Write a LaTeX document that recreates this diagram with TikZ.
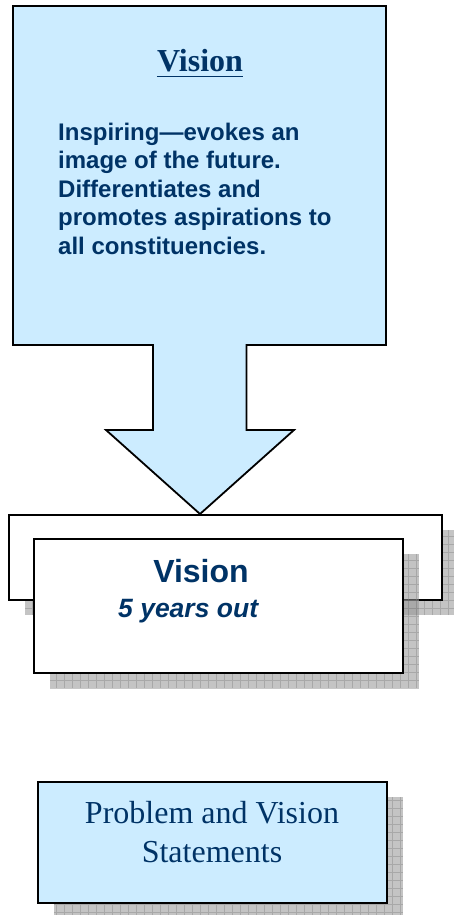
\documentclass[tikz,border=0pt]{standalone}
\usepackage{fontspec}
\setmainfont{Liberation Serif}
\setsansfont{Liberation Sans}
\usetikzlibrary{calc}
\definecolor{lightblue}{RGB}{204,236,255}
\definecolor{navy}{RGB}{0,51,102}
\newcommand\gridshadow[2]{%
  \fill[gray!85, fill opacity=0.55] #1 rectangle #2;
  \begin{scope}
    \clip #1 rectangle #2;
    \draw[gray!95, line width=0.5pt, opacity=0.45, step=8pt] #1 grid #2;
  \end{scope}}
\begin{document}
\begin{tikzpicture}[x=1pt,y=-1pt,
  box/.style={draw=black, line width=1.6pt, inner sep=0pt},
  txt/.style={text=navy, inner sep=0pt}]
\useasboundingbox (0,0) rectangle (453,915);

% top arrow callout
\draw[line width=1.8pt, fill=lightblue, line join=miter]
  (13,6) -- (386,6) -- (386,345) -- (246.5,345) -- (246.5,430) -- (294,430)
  -- (200,514) -- (106,430) -- (153,430) -- (153,345) -- (13,345) -- cycle;
\node[txt, font=\rmfamily\bfseries\fontsize{32}{36}\selectfont, anchor=base] (title) at (200,71.5) {Vision};
\draw[navy, line width=1.8pt] ([yshift=-5pt]title.base west) -- ([yshift=-5pt]title.base east);
\node[txt, font=\sffamily\bfseries\fontsize{24}{28.5}\selectfont, align=left, anchor=base west] (body) at (58,254)
  {Inspiring—evokes an\\image of the future.\\Differentiates and\\promotes aspirations to\\all constituencies.};

% back and front boxes
\gridshadow{(25,530)}{(458,615)}
\node[box, fill=white, minimum width=433pt, minimum height=85pt] (back) at (225.5,557.5) {};
\gridshadow{(50,554)}{(419,688)}
\node[box, fill=white, minimum width=369pt, minimum height=134pt] (front) at (218.5,606) {};
\node[txt, font=\sffamily\bfseries\fontsize{32}{36}\selectfont, anchor=base] (fvision) at (201,582) {Vision};
\node[txt, font=\sffamily\bfseries\itshape\fontsize{26.5}{30}\selectfont, anchor=base west] (years) at (118,617) {5 years out};

% bottom box
\gridshadow{(54,797)}{(403,918)}
\node[box, fill=lightblue, line width=2pt, minimum width=349pt, minimum height=121pt] (pvs) at (212.5,842.5) {};
\node[txt, font=\rmfamily\fontsize{32}{39}\selectfont, align=center, anchor=base] (pvstext) at (212,862)
  {Problem and Vision\\Statements};
\end{tikzpicture}
\end{document}
